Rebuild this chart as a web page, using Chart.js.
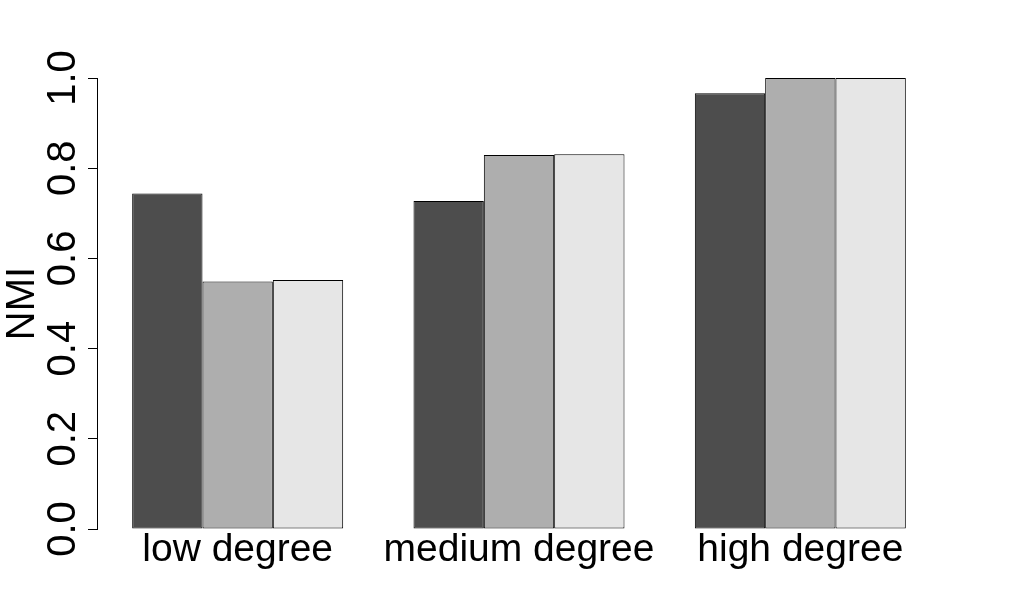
<!DOCTYPE html>
<html>
<head>
<meta charset="utf-8">
<script src="https://cdn.jsdelivr.net/npm/chart.js@4"></script>
<style>
  html, body { margin:0; padding:0; background:#fff; }
  #wrap { width:1016px; height:608px; }
</style>
</head>
<body>
<div id="wrap"><canvas id="nmiChart" width="1016" height="608"></canvas></div>
<script>
// ── DATA ───────────────────────────────────────────────
const categories = ['low degree', 'medium degree', 'high degree'];
const series1 = [0.744, 0.727, 0.966];
const series2 = [0.549, 0.829, 1.0];
const series3 = [0.552, 0.831, 1.0];
const yTicks  = [0, 0.2, 0.4, 0.6, 0.8, 1.0];

const FONT = "'Liberation Sans', Arial, sans-serif";
const COLORS = ['#4d4d4d', '#aeaeae', '#e6e6e6'];

const mkSet = (label, data, i) => ({
  label, data,
  backgroundColor: COLORS[i],
  borderColor: '#000',
  borderWidth: 1,
  borderSkipped: false,
  categoryPercentage: 0.75,
  barPercentage: 1.0,
});

// ── CHART ──────────────────────────────────────────────
const ctx = document.getElementById('nmiChart').getContext('2d');
new Chart(ctx, {
  type: 'bar',
  data: {
    labels: categories,
    datasets: [
      mkSet('series 1', series1, 0),
      mkSet('series 2', series2, 1),
      mkSet('series 3', series3, 2),
    ]
  },
  options: {
    responsive: false,
    animation: false,
    devicePixelRatio: 1,
    layout: { padding: { top: 78, right: 75, bottom: 0, left: 0 } },
    plugins: { legend: { display: false }, tooltip: { enabled: false } },
    scales: {
      x: {
        grid: { display: false, drawTicks: false },
        border: { display: false },
        ticks: {
          color: '#000', padding: 2,
          minRotation: 0, maxRotation: 0, autoSkip: false,
          font: { family: FONT, size: 39, lineHeight: 1.0 },
        },
        afterFit: s => { s.height = 79; },
      },
      y: {
        min: 0, max: 1,
        afterBuildTicks: s => { s.ticks = yTicks.map(v => ({ value: v })); },
        grid: { drawOnChartArea: false, drawTicks: true, tickLength: 9, color: '#000', lineWidth: 1 },
        border: { display: true, color: '#000', width: 1 },
        ticks: {
          color: '#000', padding: -4,
          minRotation: 90, maxRotation: 90,
          crossAlign: 'center',
          font: { family: FONT, size: 40 },
          callback: v => v.toFixed(1),
        },
        title: {
          display: true, text: 'NMI', color: '#000',
          padding: 0,
          font: { family: FONT, size: 40, lineHeight: 1.15 },
        },
        afterFit: s => { s.width = 97; },
      }
    }
  }
});
</script>
</body>
</html>
